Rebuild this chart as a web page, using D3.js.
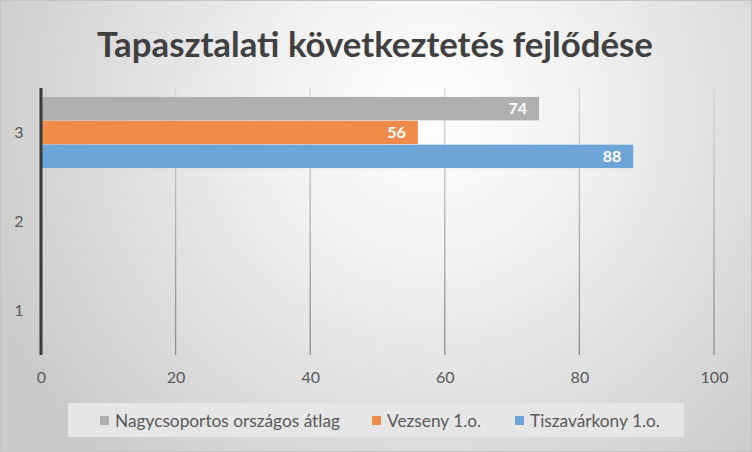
<!DOCTYPE html>
<html><head><meta charset="utf-8">
<script src="https://cdn.jsdelivr.net/npm/d3@7"></script>
<style>body{margin:0;padding:0;overflow:hidden;background:#fff}svg{display:block}</style>
</head><body>
<svg id="chart" width="752" height="452"></svg>
<script>
const title = "Tapasztalati következtetés fejlődése";
const categories = ["1", "2", "3"];
const seriesNames = ["Nagycsoportos országos átlag", "Vezseny 1.o.", "Tiszavárkony 1.o."];
const seriesColors = ["#afafaf", "#ed8c4b", "#6ea5d8"];
// values per series for category 3 (categories 1,2 empty)
const gray = [null, null, 74];
const orange = [null, null, 56];
const blue = [null, null, 88];
const xTicks = [0, 20, 40, 60, 80, 100];

const seriesValues = [gray, orange, blue];
const W = 752, H = 452;
const svg = d3.select("#chart");
const font = "Lato, 'Open Sans', sans-serif";

const defs = svg.append("defs");
const rg = defs.append("radialGradient").attr("id", "bg")
  .attr("gradientUnits", "userSpaceOnUse").attr("cx", 430).attr("cy", 110).attr("r", 480);
rg.append("stop").attr("offset", "0").attr("stop-color", "#ffffff");
rg.append("stop").attr("offset", "0.35").attr("stop-color", "#f0f0f0");
rg.append("stop").attr("offset", "1").attr("stop-color", "#cacaca");
const gg = defs.append("linearGradient").attr("id", "grid")
  .attr("gradientUnits", "userSpaceOnUse").attr("x1", 0).attr("y1", 88).attr("x2", 0).attr("y2", 355);
gg.append("stop").attr("offset", "0").attr("stop-color", "#d8d8d8");
gg.append("stop").attr("offset", "1").attr("stop-color", "#8a8a8a");

svg.append("rect").attr("width", W).attr("height", H).attr("fill", "url(#bg)");
svg.append("rect").attr("x", 0.5).attr("y", 0.5).attr("width", W - 1).attr("height", H - 1)
  .attr("fill", "none").attr("stroke", "#c4c4c4");

const m = {left: 41, right: 714, top: 88, bottom: 355};
const x = d3.scaleLinear().domain([0, 100]).range([m.left, m.right]);
const y = d3.scaleBand().domain(categories.slice().reverse()).range([m.top, m.bottom]).paddingInner(0.19).paddingOuter(0.095);
const ySub = d3.scaleBand().domain(d3.range(seriesNames.length)).range([0, y.bandwidth()]).padding(0.02);

// gridlines
const gridG = svg.append("g");
gridG.selectAll("line").data(xTicks.filter(d => d > 0)).join("line")
  .attr("x1", d => x(d)).attr("x2", d => x(d))
  .attr("y1", m.top).attr("y2", m.bottom)
  .attr("stroke", "url(#grid)").attr("stroke-width", 1.3);

// bars
const barsG = svg.append("g");
seriesValues.forEach((vals, si) => {
  const data = categories.map((c, i) => ({c, v: vals[i]})).filter(d => d.v != null);
  barsG.selectAll(null).data(data).join("rect")
    .attr("x", x(0)).attr("y", d => y(d.c) + ySub(si))
    .attr("width", d => x(d.v) - x(0)).attr("height", ySub.bandwidth())
    .attr("fill", seriesColors[si]);
  barsG.selectAll(null).data(data).join("text")
    .attr("x", d => x(d.v) - 12).attr("y", d => y(d.c) + ySub(si) + ySub.bandwidth() / 2)
    .attr("dy", "0.36em").attr("text-anchor", "end")
    .attr("font-family", font).attr("font-weight", "bold").attr("font-size", 16)
    .attr("fill", "#ffffff").text(d => d.v);
});

// axis line at 0
svg.append("line").attr("x1", x(0)).attr("x2", x(0)).attr("y1", m.top).attr("y2", m.bottom)
  .attr("stroke", "#3a3a3a").attr("stroke-width", 3);

// y labels
const yAxis = svg.append("g").attr("transform", `translate(${x(0) - 15},0)`)
  .call(d3.axisLeft(y).tickSize(0).tickPadding(0));
yAxis.select(".domain").remove();
yAxis.selectAll("text").attr("font-family", font).attr("font-size", 16).attr("fill", "#595959")
  .attr("text-anchor", "middle").attr("x", -7);

// x labels
const xAxis = svg.append("g").attr("transform", `translate(0,${m.bottom})`)
  .call(d3.axisBottom(x).tickValues(xTicks).tickSize(0).tickPadding(17));
xAxis.select(".domain").remove();
xAxis.selectAll("text").attr("font-family", font).attr("font-size", 16).attr("fill", "#595959");

// title
const t = svg.append("text").attr("x", 375).attr("y", 57).attr("text-anchor", "middle")
  .attr("font-family", font).attr("font-weight", "bold").attr("font-size", 36)
  .attr("fill", "#404040").text(title);
const tw = t.node().getComputedTextLength();
t.attr("font-size", 36 * 556 / tw);

// legend
svg.append("rect").attr("x", 68).attr("y", 403).attr("width", 616).attr("height", 34).attr("fill", "#e6e6e6");
const legX = [100, 372, 515];
const lg = svg.append("g");
const texts = [];
seriesNames.forEach((n, i) => {
  lg.append("rect").attr("x", legX[i]).attr("y", 416).attr("width", 9).attr("height", 9).attr("fill", seriesColors[i]);
  texts.push(lg.append("text").attr("x", legX[i] + 15).attr("y", 421).attr("dy", "0.36em")
    .attr("font-family", font).attr("font-size", 16).attr("fill", "#595959").text(n));
});
const w0 = texts[0].node().getComputedTextLength();
const fs = 16 * 225 / w0;
texts.forEach(tt => tt.attr("font-size", fs));
</script>
</body></html>
